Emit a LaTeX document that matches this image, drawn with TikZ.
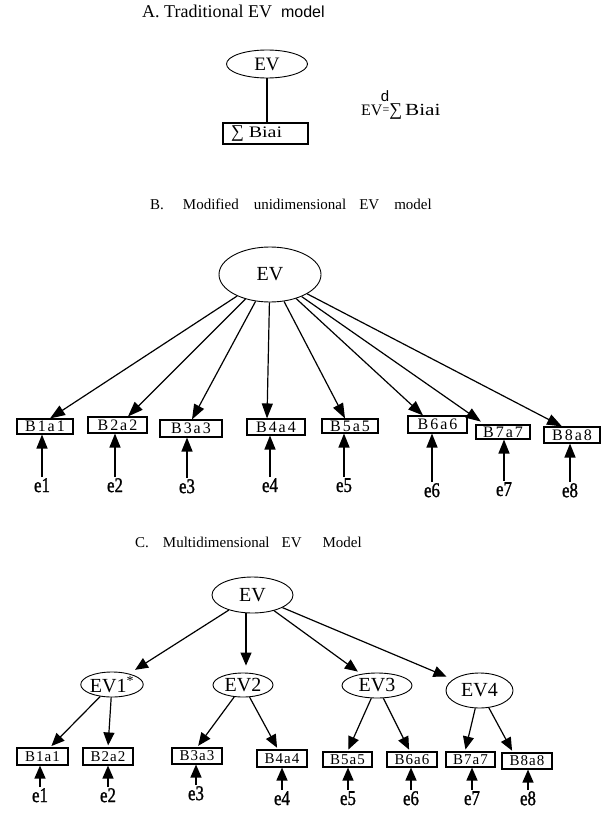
\documentclass[tikz,border=0pt]{standalone}
\usepackage{fontspec}
\setmainfont{Liberation Serif}
\newfontfamily\labelsans{Liberation Sans}
\newfontfamily\wideserif{Liberation Serif}[FakeStretch=1.25]
\newfontfamily\spacedserif{Liberation Serif}[LetterSpace=12]
\newfontfamily\smallspaced{Liberation Serif}[LetterSpace=7]
\newfontfamily\errfont{Liberation Serif}[FakeStretch=0.8,FakeBold=1.2]
\usetikzlibrary{arrows.meta,shapes.geometric,calc}

\newcommand\fsz[1]{\fontsize{#1}{#1}\selectfont}

\begin{document}
\begin{tikzpicture}[x=1pt,y=-1pt,
  latent/.style={ellipse,draw,line width=0.9pt,inner sep=0pt},
  obsbox/.style={rectangle,draw,line width=1.1pt,inner sep=0pt},
  errlabel/.style={inner sep=1pt,anchor=north,font=\errfont\fsz{21}},
  titletext/.style={anchor=base west,inner sep=0pt,font=\fsz{15}},
  linkB/.style={line width=1.2pt,-{Triangle[length=15pt,width=11pt]}},
  linkC/.style={line width=1.2pt,-{Triangle[length=13pt,width=11pt]}},
  errlink/.style={line width=1.4pt,-{Triangle[length=14pt,width=11pt]}}
]
\useasboundingbox (0,0) rectangle (607,813);

% ---------------- A. traditional model ----------------
\node[anchor=base west,inner sep=0pt,font=\fsz{18}] (titleA) at (142,18)
  {A. Traditional EV\hspace{9pt}{\labelsans\fsz{16}model}};
\node[latent,minimum width=81pt,minimum height=28pt,font=\fsz{19}] (evA) at (267,64) {EV};
\node[obsbox,minimum width=85pt,minimum height=21pt,text width=69pt,inner xsep=8pt,
      align=left,font=\fsz{16}] (sumbox) at (265.5,133.5) {\fsz{18}∑\hspace{5pt}{\wideserif\fsz{16}Biai}};
\draw[line width=1.2pt] (evA.south) -- (evA.south |- sumbox.north);

\node[anchor=base west,inner sep=0pt] (formula) at (361,116)
  {\fsz{16}EV\raisebox{2pt}{\fsz{12}=}\fsz{18}∑\hspace{3pt}{\wideserif\fsz{17}Biai}};
\node[inner sep=0pt,font=\labelsans\fsz{15}] (supd) at (385,96) {d};

% ---------------- B. unidimensional model ----------------
\node[titletext] (titleB) at (150,209)
  {B.\hspace{19pt}Modified\hspace{15pt}unidimensional\hspace{13pt}EV\hspace{15pt}model};
\node[latent,minimum width=102pt,minimum height=55pt,font=\fsz{20}] (evB) at (270,274.5) {EV};

\begin{scope}[every node/.append style={obsbox,font=\spacedserif\fsz{16}}]
  \node[minimum width=56pt,minimum height=15pt] (b1) at (45,426.5) {B1a1};
  \node[minimum width=59pt,minimum height=16pt] (b2) at (117.5,425) {B2a2};
  \node[minimum width=62pt,minimum height=17pt] (b3) at (191,428.5) {B3a3};
  \node[minimum width=58pt,minimum height=16pt] (b4) at (276,427) {B4a4};
  \node[minimum width=56pt,minimum height=14pt] (b5) at (350,426) {B5a5};
  \node[minimum width=59pt,minimum height=17pt] (b6) at (437.5,424.5) {B6a6};
  \node[minimum width=54pt,minimum height=14pt] (b7) at (503,432) {B7a7};
  \node[minimum width=56pt,minimum height=16pt] (b8) at (572,435) {B8a8};
\end{scope}

\foreach \i/\dx in {1/5,2/10.5,3/1,4/-9,5/-5,6/-14.5,8/-10}
  \draw[linkB] (evB) -- ([xshift=\dx pt]b\i.north);
\draw[linkB,shorten >=5pt] (evB) -- ([xshift=-18pt]b7.north);

\node[errlabel] (be1) at (42,477) {e1};
\node[errlabel] (be2) at (115,477) {e2};
\node[errlabel] (be3) at (187,478) {e3};
\node[errlabel] (be4) at (270,477) {e4};
\node[errlabel] (be5) at (344,477) {e5};
\node[errlabel] (be6) at (432,482) {e6};
\node[errlabel] (be7) at (504,481) {e7};
\node[errlabel] (be8) at (570,482) {e8};
\foreach \i in {1,...,8}
  \draw[errlink] (be\i.north) -- (be\i.north |- b\i.south);

% ---------------- C. multidimensional model ----------------
\node[titletext] (titleC) at (135,547)
  {C.\hspace{14pt}Multidimensional\hspace{12pt}EV\hspace{21pt}Model};
\node[latent,minimum width=81pt,minimum height=36pt,font=\fsz{20}] (evC) at (252.5,595) {EV};

\begin{scope}[every node/.append style={latent,font=\fsz{20}}]
  \node[minimum width=62pt,minimum height=25pt] (ev1) at (112,684.5) {EV1\textsuperscript{*}};
  \node[minimum width=60pt,minimum height=24pt] (ev2) at (243,685) {EV2};
  \node[minimum width=70pt,minimum height=25pt] (ev3) at (377,685.5) {EV3};
  \node[minimum width=67pt,minimum height=35pt] (ev4) at (479.5,690.5) {EV4};
\end{scope}

\draw[linkC,shorten >=7pt] (evC) -- (ev1);
\draw[linkC,shorten >=7pt] ([xshift=-6.5pt]evC.south) -- ([xshift=-6.5pt]evC.south |- ev2.north);
\draw[linkC,shorten >=4pt] (evC) -- (ev3);
\draw[linkC,shorten >=7pt] (evC) -- (ev4);

\begin{scope}[every node/.append style={obsbox,font=\smallspaced\fsz{15}}]
  \node[minimum width=51pt,minimum height=17pt] (c1) at (42.5,756.5) {B1a1};
  \node[minimum width=50pt,minimum height=17pt] (c2) at (108,756.5) {B2a2};
  \node[minimum width=50pt,minimum height=16pt] (c3) at (197,756) {B3a3};
  \node[minimum width=50pt,minimum height=17pt] (c4) at (282,758.5) {B4a4};
  \node[minimum width=49pt,minimum height=15pt] (c5) at (347.5,759.5) {B5a5};
  \node[minimum width=50pt,minimum height=15pt] (c6) at (412,759.5) {B6a6};
  \node[minimum width=49pt,minimum height=15pt] (c7) at (470.5,759.5) {B7a7};
  \node[minimum width=50pt,minimum height=16pt] (c8) at (527,761) {B8a8};
\end{scope}

\draw[linkC,shorten >=2pt] (ev1) -- ([xshift=7.5pt]c1.north);
\draw[linkC,shorten >=2pt] (ev1) -- (c2.north);
\draw[linkC,shorten >=2pt] (ev2) -- (c3.north);
\draw[linkC,shorten >=2pt] (ev2) -- ([xshift=-4pt]c4.north);
\draw[linkC,shorten >=2pt] (ev3) -- (c5.north);
\draw[linkC,shorten >=2pt] (ev3) -- ([xshift=-2pt]c6.north);
\draw[linkC,shorten >=2pt] (ev4) -- ([xshift=-5.5pt]c7.north);
\draw[linkC,shorten >=2pt] (ev4) -- ([xshift=-14pt]c8.north);

\node[errlabel] (ce1) at (40,787) {e1};
\node[errlabel] (ce2) at (108,787) {e2};
\node[errlabel] (ce3) at (196,785) {e3};
\node[errlabel] (ce4) at (282,790) {e4};
\node[errlabel] (ce5) at (348,790) {e5};
\node[errlabel] (ce6) at (411,790) {e6};
\node[errlabel] (ce7) at (472,790) {e7};
\node[errlabel] (ce8) at (528,790) {e8};
\foreach \i in {1,...,8}
  \draw[linkC,line width=1.4pt] (ce\i.north) -- (ce\i.north |- c\i.south);
\end{tikzpicture}
\end{document}
